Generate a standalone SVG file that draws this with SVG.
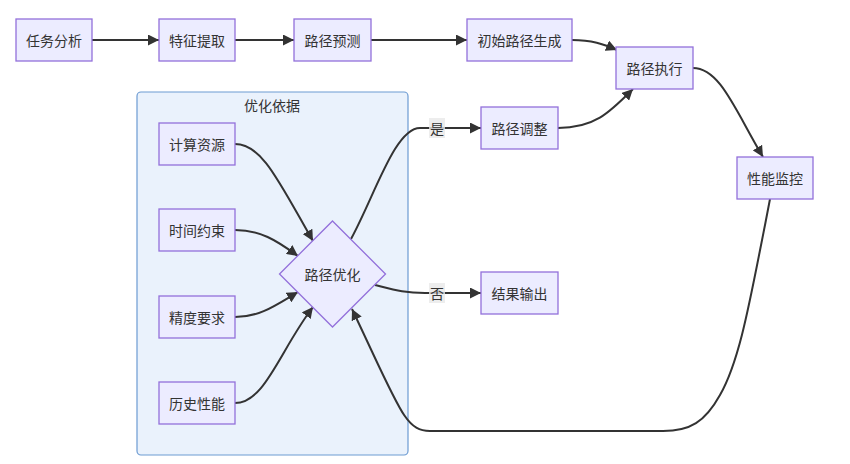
<svg xmlns="http://www.w3.org/2000/svg" width="850" height="464" viewBox="0 0 850 464">
<style>
.node rect,.node polygon{fill:#ECECFF;stroke:#9370DB;stroke-width:1.3}
.cluster rect{fill:#EAF2FC;stroke:#6C9BD2;stroke-width:1.2}
text{font-family:"Noto Sans CJK SC","Liberation Sans",sans-serif;font-size:14px;fill:#333;text-anchor:middle;dominant-baseline:central}
.edges path{fill:none;stroke:#333;stroke-width:2}
.lbl rect{fill:#E8E8E8;opacity:0.8}
</style>
<defs>
<marker id="arr" viewBox="0 0 10 10" refX="10" refY="5" markerUnits="userSpaceOnUse" markerWidth="11" markerHeight="11" orient="auto">
<path d="M0,0 L10,5 L0,10 z" fill="#333"/>
</marker>
</defs>
<g id="cluster-youhua" class="cluster">
<rect x="137" y="92" width="271" height="363" rx="4"/>
<text x="272" y="105">优化依据</text>
</g>
<g class="edges">
<path marker-end="url(#arr)" d="M92,40 L159,40"/>
<path marker-end="url(#arr)" d="M235,40 L294,40"/>
<path marker-end="url(#arr)" d="M371,40 L467,40"/>
<path marker-end="url(#arr)" d="M572,40 C592,40 603,44 617,50"/>
<path marker-end="url(#arr)" d="M558,128 C595,128 610,112 633,89"/>
<path marker-end="url(#arr)" d="M693,68 C720,68 735,110 763,157"/>
<path marker-end="url(#arr)" d="M235,144 C262,144 278,180 313,241"/>
<path marker-end="url(#arr)" d="M235,230 C260,230 276,240 298,256"/>
<path marker-end="url(#arr)" d="M235,317 C260,317 276,305 298,292"/>
<path marker-end="url(#arr)" d="M235,403 C265,403 280,350 313,307"/>
<path marker-end="url(#arr)" d="M351,239 C375,195 395,128 420,128 L481,128"/>
<path marker-end="url(#arr)" d="M375,285 C395,290 405,293 425,293 L481,293"/>
<path marker-end="url(#arr)" d="M770,199 L765,225 C750,300 740,360 720,395 C705,422 690,431 663,431 L430,431 C405,431 400,410 352,309"/>
</g>
<g class="lbl" id="label-yes">
<rect x="429" y="118" width="16" height="20"/>
<text x="437" y="128">是</text>
</g>
<g class="lbl" id="label-no">
<rect x="429" y="283" width="16" height="20"/>
<text x="437" y="293">否</text>
</g>
<g id="n-renwu" class="node"><rect x="16" y="19" width="76" height="42"/><text x="54" y="40">任务分析</text></g>
<g id="n-tezheng" class="node"><rect x="159" y="19" width="76" height="42"/><text x="197" y="40">特征提取</text></g>
<g id="n-yuce" class="node"><rect x="294" y="19" width="77" height="42"/><text x="332.5" y="40">路径预测</text></g>
<g id="n-chushi" class="node"><rect x="467" y="19" width="105" height="42"/><text x="519.5" y="40">初始路径生成</text></g>
<g id="n-zhixing" class="node"><rect x="616" y="47" width="77" height="42"/><text x="654.5" y="68">路径执行</text></g>
<g id="n-tiaozheng" class="node"><rect x="481" y="107" width="77" height="42"/><text x="519.5" y="128">路径调整</text></g>
<g id="n-jiankong" class="node"><rect x="737" y="157" width="76" height="42"/><text x="775" y="178">性能监控</text></g>
<g id="n-shuchu" class="node"><rect x="481" y="272" width="77" height="42"/><text x="519.5" y="293">结果输出</text></g>
<g id="n-jisuan" class="node"><rect x="159" y="123" width="76" height="42"/><text x="197" y="144">计算资源</text></g>
<g id="n-shijian" class="node"><rect x="159" y="209" width="76" height="42"/><text x="197" y="230">时间约束</text></g>
<g id="n-jingdu" class="node"><rect x="159" y="296" width="76" height="42"/><text x="197" y="317">精度要求</text></g>
<g id="n-lishi" class="node"><rect x="159" y="382" width="76" height="42"/><text x="197" y="403">历史性能</text></g>
<g id="n-youhua" class="node"><polygon points="332.5,221 385.5,274 332.5,327 279.5,274"/><text x="332.5" y="274">路径优化</text></g>
</svg>
